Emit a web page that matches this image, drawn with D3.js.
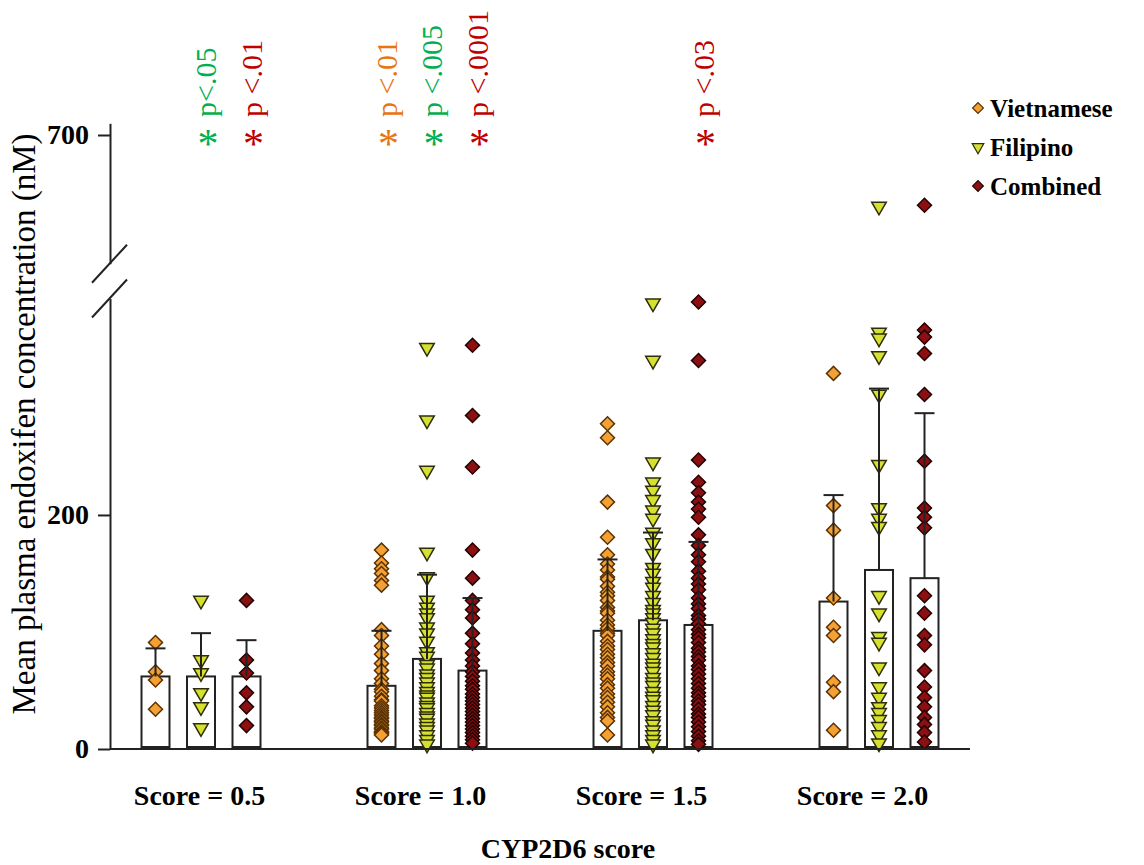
<!DOCTYPE html>
<html>
<head>
<meta charset="utf-8">
<script src="https://cdn.jsdelivr.net/npm/d3@7"></script>
<style>
  body { margin: 0; background: #fff; }
  svg text { font-family: "Liberation Serif", "Times New Roman", serif; }
</style>
</head>
<body>
<svg id="chart" width="1144" height="865"></svg>
<script>
// ---- Data ---------------------------------------------------------------
const groups = ["0.5", "1.0", "1.5", "2.0"];
const tickLabels = ["Score = 0.5", "Score = 1.0", "Score = 1.5", "Score = 2.0"];
const seriesNames = ["Vietnamese", "Filipino", "Combined"];

// bar heights (mean, nM) per CYP2D6 score
const meanVietnamese = [62, 54, 101, 126];
const meanFilipino   = [62, 77, 110, 153];
const meanCombined   = [62, 67, 106, 146];

// top of the error bar (mean + SD, nM)
const errTopVietnamese = [86, 101, 162, 217];
const errTopFilipino   = [99, 149, 185, 308];
const errTopCombined   = [93, 129, 177, 287];

// individual patient concentrations (nM)
const pointsVietnamese = [
  [91, 66, 59, 34],
  [170, 159, 154, 150, 144, 140, 102, 97, 88, 81, 73, 67, 60, 56, 51, 49, 45, 42, 41, 37, 35, 33, 31, 29, 27, 26, 24, 23, 21, 20, 18, 17, 15, 14, 13, 12],
  [278, 266, 211, 181, 166, 158, 153, 147, 145, 139, 134, 131, 127, 121, 118, 116, 110, 106, 103, 99, 97, 92, 88, 85, 81, 78, 74, 71, 66, 63, 60, 55, 52, 47, 44, 40, 36, 31, 27, 24, 12],
  [321, 208, 187, 129, 104, 97, 57, 49, 16]
];
const pointsFilipino = [
  [127, 76, 65, 48, 36, 18],
  [343, 281, 238, 168, 147, 127, 121, 116, 112, 104, 99, 92, 83, 79, 72, 69, 64, 61, 57, 53, 49, 46, 44, 40, 37, 35, 31, 28, 26, 22, 19, 16, 12, 8, 4],
  [381, 332, 245, 228, 221, 213, 204, 197, 185, 176, 167, 155, 150, 143, 138, 131, 125, 119, 116, 112, 108, 103, 99, 94, 90, 87, 82, 78, 73, 70, 66, 61, 57, 54, 49, 45, 42, 37, 33, 29, 24, 21, 16, 12, 8, 4],
  [639, 356, 351, 336, 303, 243, 206, 197, 190, 131, 116, 96, 91, 70, 53, 44, 36, 31, 25, 19, 12, 5]
];
const pointsCombined = [
  [127, 76, 65, 48, 36, 20],
  [345, 285, 241, 170, 146, 127, 119, 112, 99, 90, 82, 76, 71, 66, 62, 58, 54, 51, 47, 44, 41, 38, 35, 32, 29, 26, 23, 20, 17, 14, 11, 8, 5],
  [382, 332, 247, 228, 219, 211, 205, 198, 183, 174, 166, 160, 152, 146, 141, 136, 129, 124, 120, 114, 111, 107, 102, 98, 95, 91, 86, 83, 79, 76, 71, 68, 64, 60, 56, 52, 48, 45, 41, 38, 34, 30, 27, 23, 19, 15, 11, 7, 4],
  [640, 358, 352, 338, 303, 246, 206, 198, 189, 131, 116, 97, 89, 67, 53, 44, 36, 27, 21, 14, 6]
];

const yTicksLower = [0, 200];
const yTicksUpper = [700];

// significance marks above the bars
const sigGroups  = ["0.5", "0.5", "1.0", "1.0", "1.0", "1.5"];
const sigSeries  = ["Filipino", "Combined", "Vietnamese", "Filipino", "Combined", "Combined"];
const sigLabels  = ["p<.05", "p <.01", "p <.01", "p <.005", "p <.0001", "p <.03"];

// ---- Assemble -----------------------------------------------------------
const meansBySeries  = [meanVietnamese, meanFilipino, meanCombined];
const errBySeries    = [errTopVietnamese, errTopFilipino, errTopCombined];
const pointsBySeries = [pointsVietnamese, pointsFilipino, pointsCombined];

const bars = [];
const dots = [];
seriesNames.forEach((s, si) => {
  groups.forEach((g, gi) => {
    bars.push({ series: s, group: g, mean: meansBySeries[si][gi], err: errBySeries[si][gi] });
    pointsBySeries[si][gi].forEach(v => dots.push({ series: s, group: g, value: v }));
  });
});
const sigs = sigGroups.map((g, i) => ({ group: g, series: sigSeries[i], label: sigLabels[i] }));

// ---- Scales -------------------------------------------------------------
const svg = d3.select("#chart");
const FONT_BOLD = 700;

const xGroup = d3.scalePoint().domain(groups).range([201, 879]);
const xSeries = d3.scalePoint().domain(seriesNames).range([-45.5, 45.5]);
const xLabel = d3.scalePoint().domain(tickLabels).range([199, 862]);
const barWidth = 28;

// broken y axis: lower and upper segment share the same units per pixel
const yLow  = d3.scaleLinear().domain([0, 385]).range([749, 298.5]);
const yHigh = d3.scaleLinear().domain([590, 710]).range([263.7, 123.3]);
const y = v => (v > 450 ? yHigh(v) : yLow(v));

const fillColor = d3.scaleOrdinal().domain(seriesNames).range(["#f5a032", "#d6e02e", "#8c0f12"]);
const edgeColor = d3.scaleOrdinal().domain(seriesNames).range(["#5a3206", "#2e2e0c", "#240303"]);
const sigColor  = d3.scaleOrdinal().domain(seriesNames).range(["#e8760f", "#00b050", "#c00000"]);

const cx = d => xGroup(d.group) + xSeries(d.series);

function markerPath(series, size) {
  if (series === "Filipino") return d3.symbol(d3.symbolTriangle, size)();
  return d3.symbol(d3.symbolSquare, size)();
}
const markerRotate = s => (s === "Filipino" ? 180 : 45);

// ---- Bars ---------------------------------------------------------------
svg.append("g").selectAll("rect").data(bars).join("rect")
  .attr("x", d => cx(d) - barWidth / 2)
  .attr("y", d => y(d.mean))
  .attr("width", barWidth)
  .attr("height", d => y(0) - 2 - y(d.mean))
  .attr("fill", "#fff")
  .attr("stroke", "#222")
  .attr("stroke-width", 2);

// ---- Points -------------------------------------------------------------
svg.append("g").selectAll("path").data(dots).join("path")
  .attr("d", d => markerPath(d.series, d.series === "Filipino" ? 92 : 98))
  .attr("transform", d => `translate(${cx(d)},${y(d.value)}) rotate(${markerRotate(d.series)})`)
  .attr("fill", d => fillColor(d.series))
  .attr("stroke", d => edgeColor(d.series))
  .attr("stroke-width", 1.5);

// ---- Error bars ---------------------------------------------------------
const eb = svg.append("g").attr("stroke", "#222").attr("stroke-width", 2);
eb.selectAll("line.stem").data(bars).join("line").attr("class", "stem")
  .attr("x1", cx).attr("x2", cx)
  .attr("y1", d => y(d.mean)).attr("y2", d => y(d.err));
eb.selectAll("line.cap").data(bars).join("line").attr("class", "cap")
  .attr("x1", d => cx(d) - 10).attr("x2", d => cx(d) + 10)
  .attr("y1", d => y(d.err)).attr("y2", d => y(d.err));

// ---- Axes ---------------------------------------------------------------
const axisX = 110;
function styleAxis(g) {
  g.selectAll("path, line").attr("stroke", "#222").attr("stroke-width", 2);
  g.selectAll("text").attr("fill", "#000").style("font-size", "28px").style("font-weight", FONT_BOLD)
    .style("font-family", '"Liberation Serif", "Times New Roman", serif');
}
svg.append("g").attr("transform", `translate(${axisX},0)`)
  .call(d3.axisLeft(yLow).tickValues(yTicksLower).tickSize(12).tickSizeOuter(0).tickPadding(9).tickFormat(d3.format("d")))
  .call(styleAxis);
svg.append("g").attr("transform", `translate(${axisX},0)`)
  .call(d3.axisLeft(yHigh).tickValues(yTicksUpper).tickSize(12).tickSizeOuter(0).tickPadding(9).tickFormat(d3.format("d")))
  .call(styleAxis);

// break marks on the y axis
const brk = svg.append("g").attr("stroke", "#222").attr("stroke-width", 2);
[yHigh(590), yLow(385)].forEach(py => {
  brk.append("line")
    .attr("x1", axisX - 18).attr("y1", py + 19)
    .attr("x2", axisX + 17).attr("y2", py - 19);
});

// x baseline
svg.append("line")
  .attr("x1", axisX).attr("x2", 970)
  .attr("y1", y(0)).attr("y2", y(0))
  .attr("stroke", "#222").attr("stroke-width", 2);

// category labels
const xAx = svg.append("g").attr("transform", `translate(0,${y(0)})`)
  .call(d3.axisBottom(xLabel).tickSize(0).tickPadding(36));
xAx.select(".domain").remove();
xAx.call(styleAxis);

// axis titles
svg.append("text")
  .attr("x", 568).attr("y", 858)
  .attr("text-anchor", "middle")
  .style("font-size", "28px").style("font-weight", FONT_BOLD)
  .text("CYP2D6 score");

svg.append("text")
  .attr("transform", "translate(35,424) rotate(-90)")
  .attr("text-anchor", "middle")
  .style("font-size", "33px")
  .text("Mean plasma endoxifen concentration (nM)");

// ---- Significance marks -------------------------------------------------
const sg = svg.append("g");
sg.selectAll("text.star").data(sigs).join("text").attr("class", "star")
  .attr("x", d => xGroup(d.group) + xSeries(d.series) + 7)
  .attr("y", 158)
  .attr("text-anchor", "middle")
  .attr("fill", d => sigColor(d.series))
  .style("font-size", "42px")
  .text("*");
sg.selectAll("text.p").data(sigs).join("text").attr("class", "p")
  .attr("transform", d => `translate(${xGroup(d.group) + xSeries(d.series) + 15},117) rotate(-90)`)
  .attr("fill", d => sigColor(d.series))
  .style("font-size", "30px")
  .text(d => d.label);

// ---- Legend -------------------------------------------------------------
const lg = svg.append("g").selectAll("g").data(seriesNames).join("g")
  .attr("transform", (d, i) => `translate(978,${108 + i * 39})`);
lg.append("path")
  .attr("d", d => markerPath(d, d === "Filipino" ? 58 : 58))
  .attr("transform", d => `rotate(${markerRotate(d)})`)
  .attr("fill", d => fillColor(d))
  .attr("stroke", d => edgeColor(d))
  .attr("stroke-width", 1.2);
lg.append("text")
  .attr("x", 12).attr("y", 9)
  .style("font-size", "25px").style("font-weight", FONT_BOLD)
  .text(d => d);
</script>
</body>
</html>
